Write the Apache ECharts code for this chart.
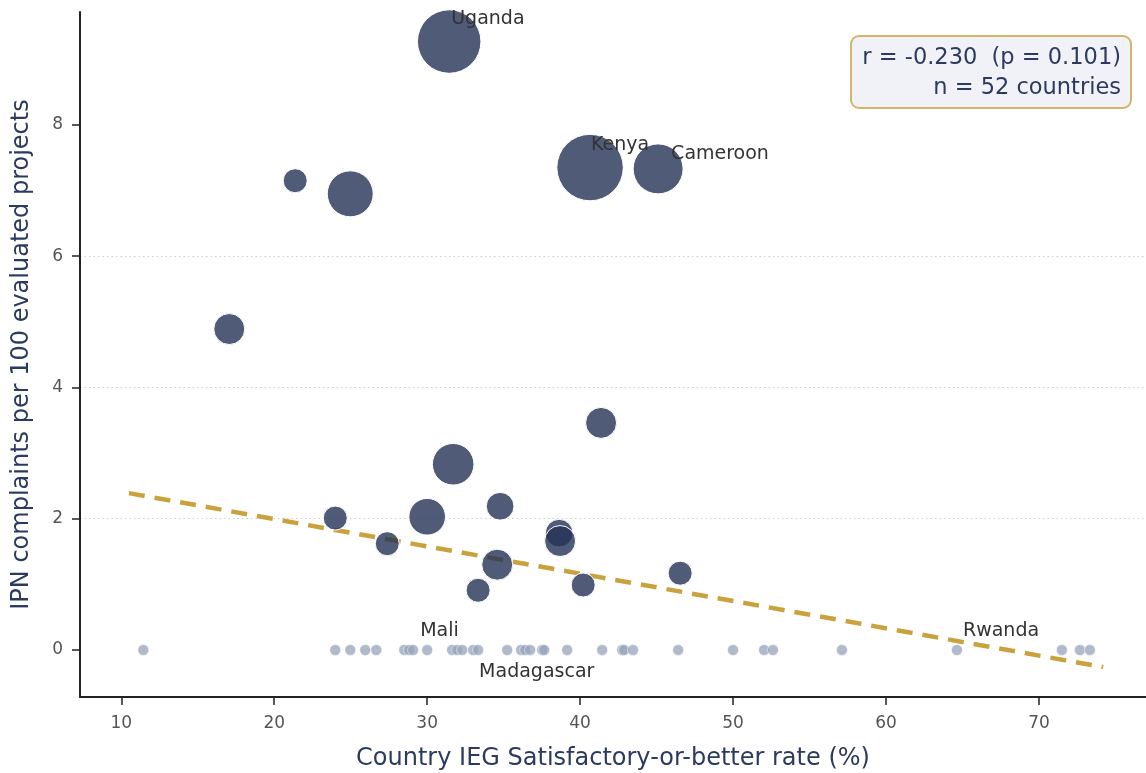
<!DOCTYPE html>
<html>
<head>
<meta charset="utf-8">
<title>IPN complaints vs IEG rate</title>
<script src="https://cdn.jsdelivr.net/npm/echarts@6/dist/echarts.min.js"></script>
<style>
  html, body { margin: 0; padding: 0; background: #fff; }
  #chart { width: 1146px; height: 773px; }
</style>
</head>
<body>
<div id="chart"></div>
<script>
// countries with at least one IPN complaint (bubble size = complaints)
var bubbleNames = ['Uganda', 'Kenya', 'Cameroon', '', '', '', '', '', '', '', '', '', '', '', '', '', '', ''];
var bubbleRate = [31.44, 40.65, 45.1, 21.37, 24.97, 17.06, 41.37, 31.7, 30.0, 34.77, 38.63, 38.69, 34.58, 33.33, 40.2, 46.54, 23.99, 27.39];
var bubbleRatio = [9.27, 7.35, 7.33, 7.15, 6.95, 4.89, 3.46, 2.83, 2.03, 2.19, 1.78, 1.66, 1.30, 0.91, 0.99, 1.17, 2.01, 1.62];
var bubbleComplaints = [21, 23, 13, 3, 11, 5, 5, 9, 7, 4, 4, 5, 5, 3, 3, 3, 3, 3];

// countries with zero complaints
var zeroRate = [11.44, 23.99, 24.97, 25.95, 26.67, 28.5, 28.82, 29.08, 30.0, 31.63, 31.96, 32.29, 33.0, 33.33,
  35.23, 36.14, 36.41, 36.73, 37.52, 37.65, 39.15, 41.44, 42.75, 42.88, 43.46, 46.41, 50.0, 52.03, 52.61,
  57.12, 64.64, 71.5, 72.68, 73.33];
var zeroNames = ['', '', '', '', '', '', '', '', 'Mali', '', '', '', '', 'Madagascar',
  '', '', '', '', '', '', '', '', '', '', '', '', '', '', '',
  '', 'Rwanda', '', '', ''];

// OLS trend line end points
var trendRate = [10.5, 74.2];
var trendRatio = [2.39, -0.26];

var xTicks = [10, 20, 30, 40, 50, 60, 70];
var yTicks = [0, 2, 4, 6, 8];

var statLines = ['r = -0.230  (p = 0.101)', 'n = 52 countries'];

// label offsets (px from point centre to label's left/middle)
var labelOffsets = {
  Uganda: [2, -22],
  Kenya: [1, -22],
  Cameroon: [13, -15],
  Mali: [-7, -19],
  Madagascar: [1, 22],
  Rwanda: [6, -19]
};

var FONT = 'DejaVu Sans';

function withLabel(name, value) {
  var item = { value: value, name: name };
  if (name) {
    item.label = {
      show: true,
      formatter: name,
      position: 'inside',
      align: 'left',
      verticalAlign: 'middle',
      offset: labelOffsets[name],
      color: '#333',
      fontSize: 19,
      fontFamily: FONT
    };
  }
  return item;
}

var bubbleData = bubbleRate.map(function (x, i) {
  return withLabel(bubbleNames[i], [x, bubbleRatio[i], bubbleComplaints[i]]);
});
var zeroData = zeroRate.map(function (x, i) {
  return withLabel(zeroNames[i], [x, 0]);
});
var trendData = trendRate.map(function (x, i) { return [x, trendRatio[i]]; });

var chart = echarts.init(document.getElementById('chart'), null, { renderer: 'canvas' });

var option = {
  animation: false,
  backgroundColor: '#fff',
  textStyle: { fontFamily: FONT },
  grid: { left: 80, right: 0, top: 12, bottom: 76, outerBoundsMode: 'none' },
  xAxis: {
    type: 'value',
    min: 7.3,
    max: 77,
    name: 'Country IEG Satisfactory-or-better rate (%)',
    nameLocation: 'middle',
    nameGap: 50,
    nameTextStyle: { color: '#2b3a5e', fontSize: 24, fontFamily: FONT },
    axisLine: { show: true, onZero: false, lineStyle: { color: '#222', width: 2 } },
    axisTick: { show: true, length: 8, customValues: xTicks, lineStyle: { color: '#222', width: 1.5 } },
    axisLabel: { customValues: xTicks, color: '#555', fontSize: 17, margin: 18, fontFamily: FONT },
    splitLine: { show: false }
  },
  yAxis: {
    type: 'value',
    min: -0.716,
    max: 9.72,
    name: 'IPN complaints per 100 evaluated projects',
    nameLocation: 'middle',
    nameGap: 46,
    nameTextStyle: { color: '#2b3a5e', fontSize: 24, fontFamily: FONT },
    axisLine: { show: true, onZero: false, lineStyle: { color: '#222', width: 2 } },
    axisTick: { show: true, length: 8, customValues: yTicks, lineStyle: { color: '#222', width: 1.5 } },
    axisLabel: { customValues: yTicks, color: '#555', fontSize: 17, margin: 17, fontFamily: FONT },
    splitLine: {
      show: true,
      showMinLine: false,
      showMaxLine: false,
      lineStyle: { color: '#cfcfcf', type: [1.5, 3], width: 1 }
    }
  },
  series: [
    {
      type: 'line',
      data: trendData,
      z: 1,
      symbol: 'none',
      silent: true,
      lineStyle: { color: '#c9a23d', width: 4.5, type: [16, 10] }
    },
    {
      type: 'scatter',
      data: zeroData,
      z: 2,
      symbolSize: 11,
      itemStyle: { color: 'rgba(150,163,185,0.75)', opacity: 1, borderColor: '#fff', borderWidth: 0.5 }
    },
    {
      type: 'scatter',
      data: bubbleData,
      z: 3,
      symbolSize: function (val) { return 2 * Math.sqrt(48 * val[2]); },
      itemStyle: { color: 'rgba(36,50,85,0.8)', opacity: 1, borderColor: '#fff', borderWidth: 1 }
    }
  ],
  graphic: [
    {
      type: 'rect',
      z: 10,
      shape: { x: 851, y: 36, width: 280, height: 72, r: 8 },
      style: { fill: '#f0f2f7', stroke: '#d6b56a', lineWidth: 2 }
    },
    {
      type: 'text',
      z: 11,
      x: 1121,
      y: 58,
      style: { text: statLines[0], align: 'right', verticalAlign: 'middle', fill: '#2b3a5e', font: '22.5px "DejaVu Sans"' }
    },
    {
      type: 'text',
      z: 11,
      x: 1121,
      y: 88,
      style: { text: statLines[1], align: 'right', verticalAlign: 'middle', fill: '#2b3a5e', font: '22.5px "DejaVu Sans"' }
    }
  ]
};

chart.setOption(option);
</script>
</body>
</html>
